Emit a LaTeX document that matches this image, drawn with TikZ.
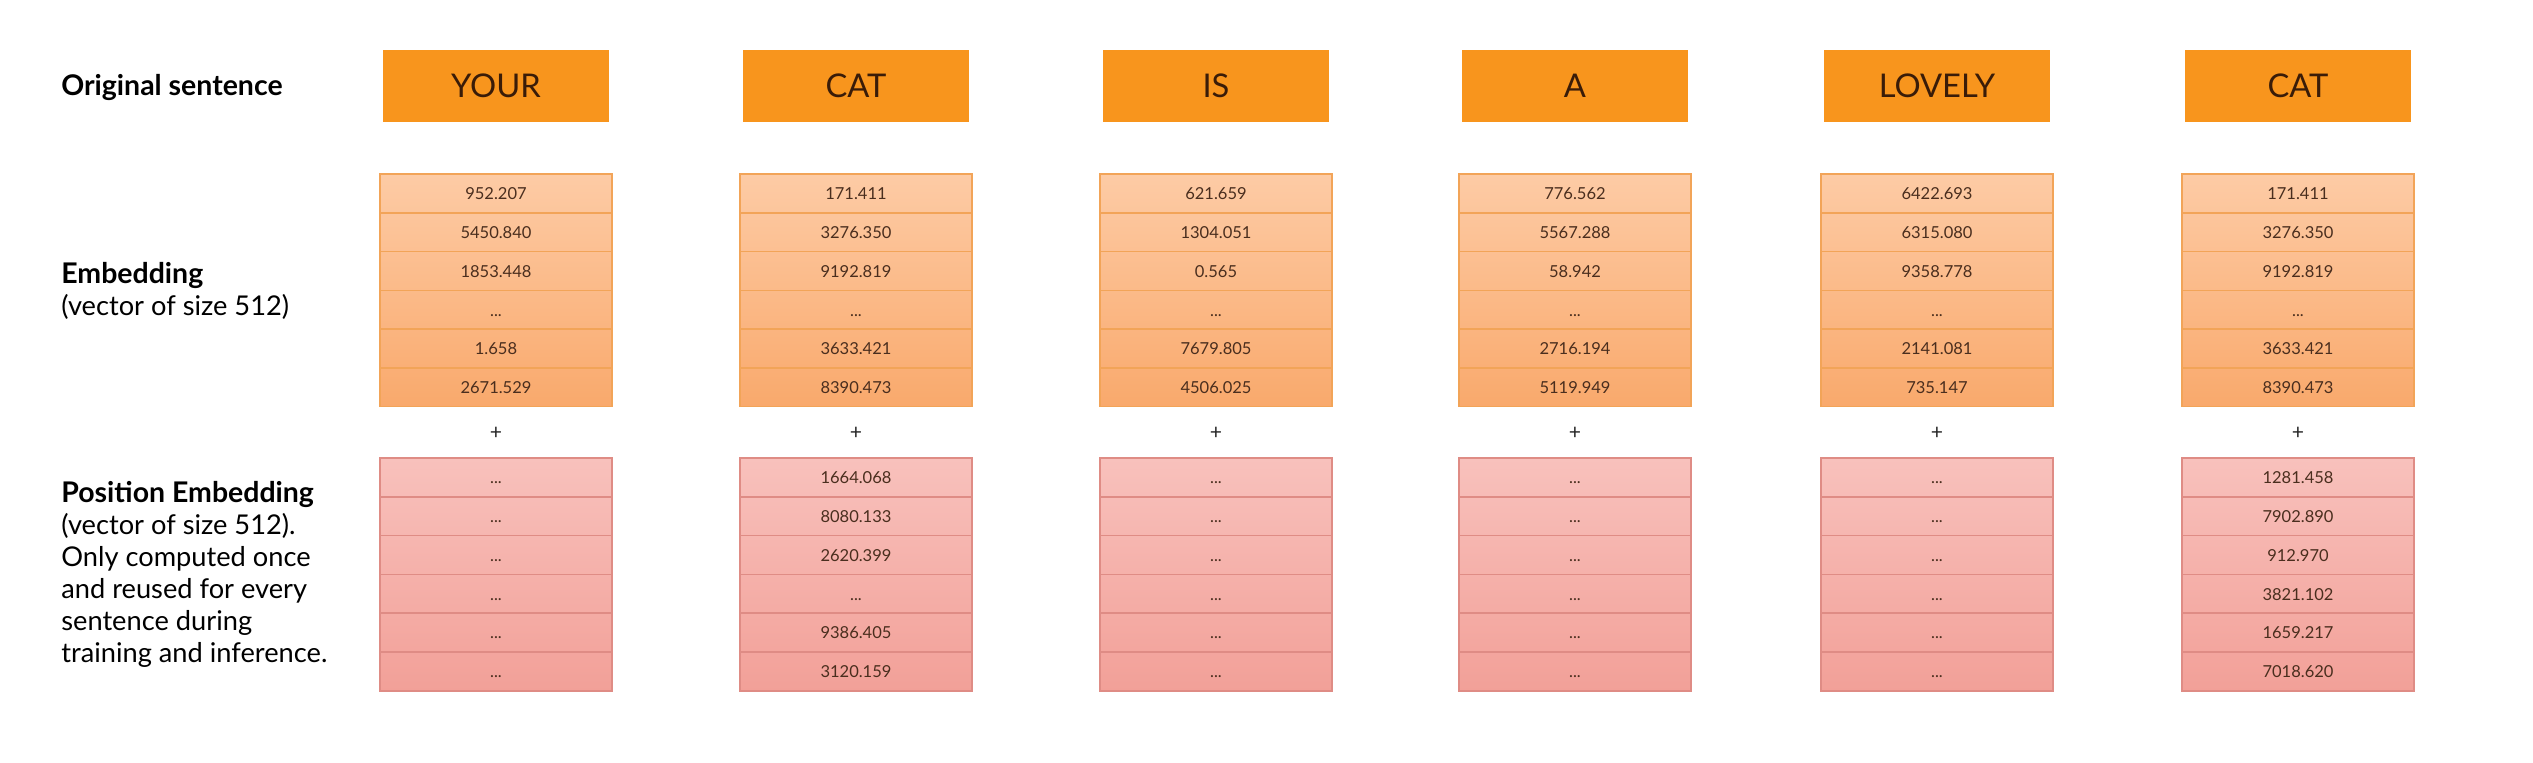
\documentclass[tikz,border=0pt]{standalone}
\usepackage{fontspec}
\setmainfont{Lato}
\definecolor{wordfill}{HTML}{F8951D}
\definecolor{wordtext}{HTML}{3A1C08}
\definecolor{embtop}{HTML}{FDCBA5}
\definecolor{embbot}{HTML}{F9A96C}
\definecolor{embline}{HTML}{F2A458}
\definecolor{postop}{HTML}{F8C1BC}
\definecolor{posbot}{HTML}{F2A098}
\definecolor{posline}{HTML}{DF8C85}
\definecolor{numtext}{HTML}{4A2E1E}
\newcommand\dd{...}
\tikzset{
  wordbox/.style={fill=wordfill, draw=none, minimum width=4.52cm, minimum height=1.44cm,
    inner sep=0pt, text=wordtext, font=\fontsize{18.6}{20}\selectfont},
  cellbase/.style={minimum width=4.64cm, minimum height=0.776cm, inner sep=0pt,
    line width=0.8pt, text=numtext, text height=0.72em, text depth=0pt,
    font=\fontsize{9.4}{10}\selectfont},
  embcell/.style={cellbase, draw=embline},
  poscell/.style={cellbase, draw=posline},
  plussign/.style={inner sep=0pt, text=black!85, font=\fontsize{12}{12}\selectfont},
  lbold/.style={anchor=base west, inner sep=0pt, font=\fontsize{16.2}{18}\selectfont\bfseries},
  lreg/.style={anchor=base west, inner sep=0pt, font=\fontsize{15.5}{18}\selectfont}
}
\begin{document}
\begin{tikzpicture}[x=0.02cm, y=-0.02cm]
\useasboundingbox (0,0) rectangle (2533,763);
% left labels
\node[lbold] (lorig) at (61,96) {Original sentence};
\node[lbold] (lemb) at (61,284) {Embedding};
\node[lreg] (lemb2) at (61,316) {(vector of size 512)};
\node[lbold] (lpos) at (61,502) {Position Embedding};
\node[lreg] (lpos2) at (61,534) {(vector of size 512).};
\node[lreg] (lpos3) at (61,566) {Only computed once};
\node[lreg] (lpos4) at (61,598) {and reused for every};
\node[lreg] (lpos5) at (61,630) {sentence during};
\node[lreg] (lpos6) at (61,662) {training and inference.};
% columns
\foreach \c/\x/\w/\ea/\eb/\ec/\ee/\ef/\pa/\pb/\pc/\pd/\pe/\pf in {
  1/496/YOUR/952.207/5450.840/1853.448/1.658/2671.529/\dd/\dd/\dd/\dd/\dd/\dd,
  2/856/CAT/171.411/3276.350/9192.819/3633.421/8390.473/1664.068/8080.133/2620.399/\dd/9386.405/3120.159,
  3/1216/IS/621.659/1304.051/0.565/7679.805/4506.025/\dd/\dd/\dd/\dd/\dd/\dd,
  4/1575/A/776.562/5567.288/58.942/2716.194/5119.949/\dd/\dd/\dd/\dd/\dd/\dd,
  5/1937/LOVELY/6422.693/6315.080/9358.778/2141.081/735.147/\dd/\dd/\dd/\dd/\dd/\dd,
  6/2298/CAT/171.411/3276.350/9192.819/3633.421/8390.473/1281.458/7902.890/912.970/3821.102/1659.217/7018.620}{
  \node[wordbox] (w\c) at (\x,86) {\w};
  \foreach \r/\v in {1/\ea,2/\eb,3/\ec,4/\dd,5/\ee,6/\ef}{
    \pgfmathtruncatemacro\ta{100*(\r-1)/6}
    \pgfmathtruncatemacro\tb{100*\r/6}
    \node[embcell, top color=embbot!\ta!embtop, bottom color=embbot!\tb!embtop]
      (e\c-\r) at (\x,{174+38.8*(\r-0.5)}) {\v};
  }
  \node[plussign] (plus\c) at (\x,433) {+};
  \foreach \r/\v in {1/\pa,2/\pb,3/\pc,4/\pd,5/\pe,6/\pf}{
    \pgfmathtruncatemacro\ta{100*(\r-1)/6}
    \pgfmathtruncatemacro\tb{100*\r/6}
    \node[poscell, top color=posbot!\ta!postop, bottom color=posbot!\tb!postop]
      (p\c-\r) at (\x,{458+38.8*(\r-0.5)}) {\v};
  }
}
\end{tikzpicture}
\end{document}
